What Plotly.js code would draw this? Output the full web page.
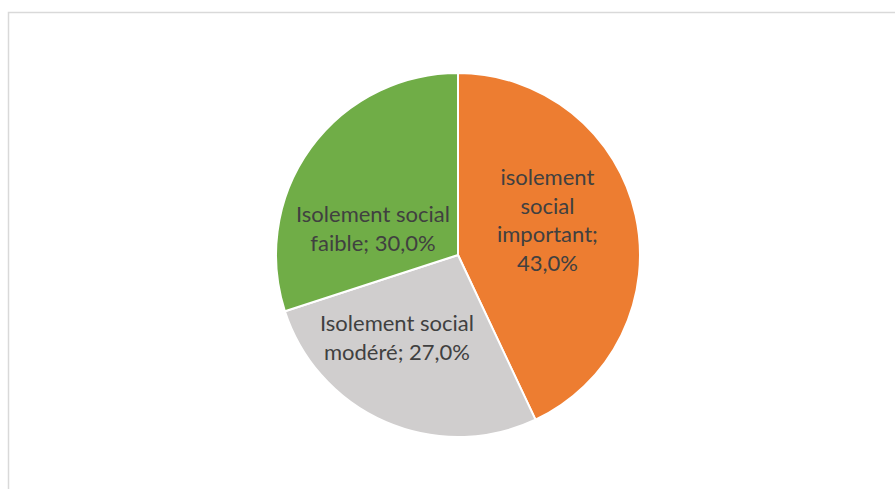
<!DOCTYPE html>
<html><head><meta charset="utf-8">
<script src="https://cdn.plot.ly/plotly-3.0.1.min.js"></script>
<style>html,body{margin:0;padding:0;background:#fff;}#chart{width:895px;height:489px;}</style>
</head><body><div id="chart"></div>
<script>
const categories = ["isolement social important", "Isolement social modéré", "Isolement social faible"];
const values = [43.0, 27.0, 30.0];
const labelTexts = ["isolement<br>social<br>important;<br>43,0%", "Isolement social<br>modéré; 27,0%", "Isolement social<br>faible; 30,0%"];
const colors = ["#ED7D31", "#D0CECE", "#70AD47"];

const W = 895, H = 489;
const cx = 458, cy = 255, r = 182;
// label centres as (radial distance / radius, angle clockwise from 12 o'clock in degrees), Excel best-fit placement
const labelPolar = [[0.53, 68.7], [0.56, 216.6], [0.49, 287.6]];

const trace = {
  type: "pie",
  labels: categories,
  values: values,
  textinfo: "none",
  sort: false,
  direction: "clockwise",
  rotation: 0,
  marker: {colors: colors, line: {color: "#ffffff", width: 2}},
  hoverinfo: "none",
  domain: {x: [(cx - r) / W, (cx + r) / W], y: [(H - cy - r) / H, (H - cy + r) / H]}
};
const annotations = labelTexts.map((t, i) => {
  const a = labelPolar[i][1] * Math.PI / 180;
  const px = cx + r * labelPolar[i][0] * Math.sin(a);
  const py = cy - r * labelPolar[i][0] * Math.cos(a);
  return {text: t, xref: "paper", yref: "paper", x: px / W, y: 1 - py / H,
          xanchor: "center", yanchor: "middle", showarrow: false, align: "center",
          font: {family: "Lato, 'Open Sans', sans-serif", size: 22, color: "#404040"}};
});
const layout = {
  width: W, height: H,
  margin: {l: 0, r: 0, t: 0, b: 0},
  showlegend: false,
  paper_bgcolor: "#ffffff",
  annotations: annotations,
  shapes: [{type: "rect", xref: "paper", yref: "paper", x0: 8.5 / W, x1: 1.2, y0: -0.2, y1: 1 - 12.5 / H,
            line: {color: "#D9D9D9", width: 1.5}, fillcolor: "rgba(0,0,0,0)"}]
};
Plotly.newPlot("chart", [trace], layout, {displayModeBar: false, staticPlot: true});
</script></body></html>
